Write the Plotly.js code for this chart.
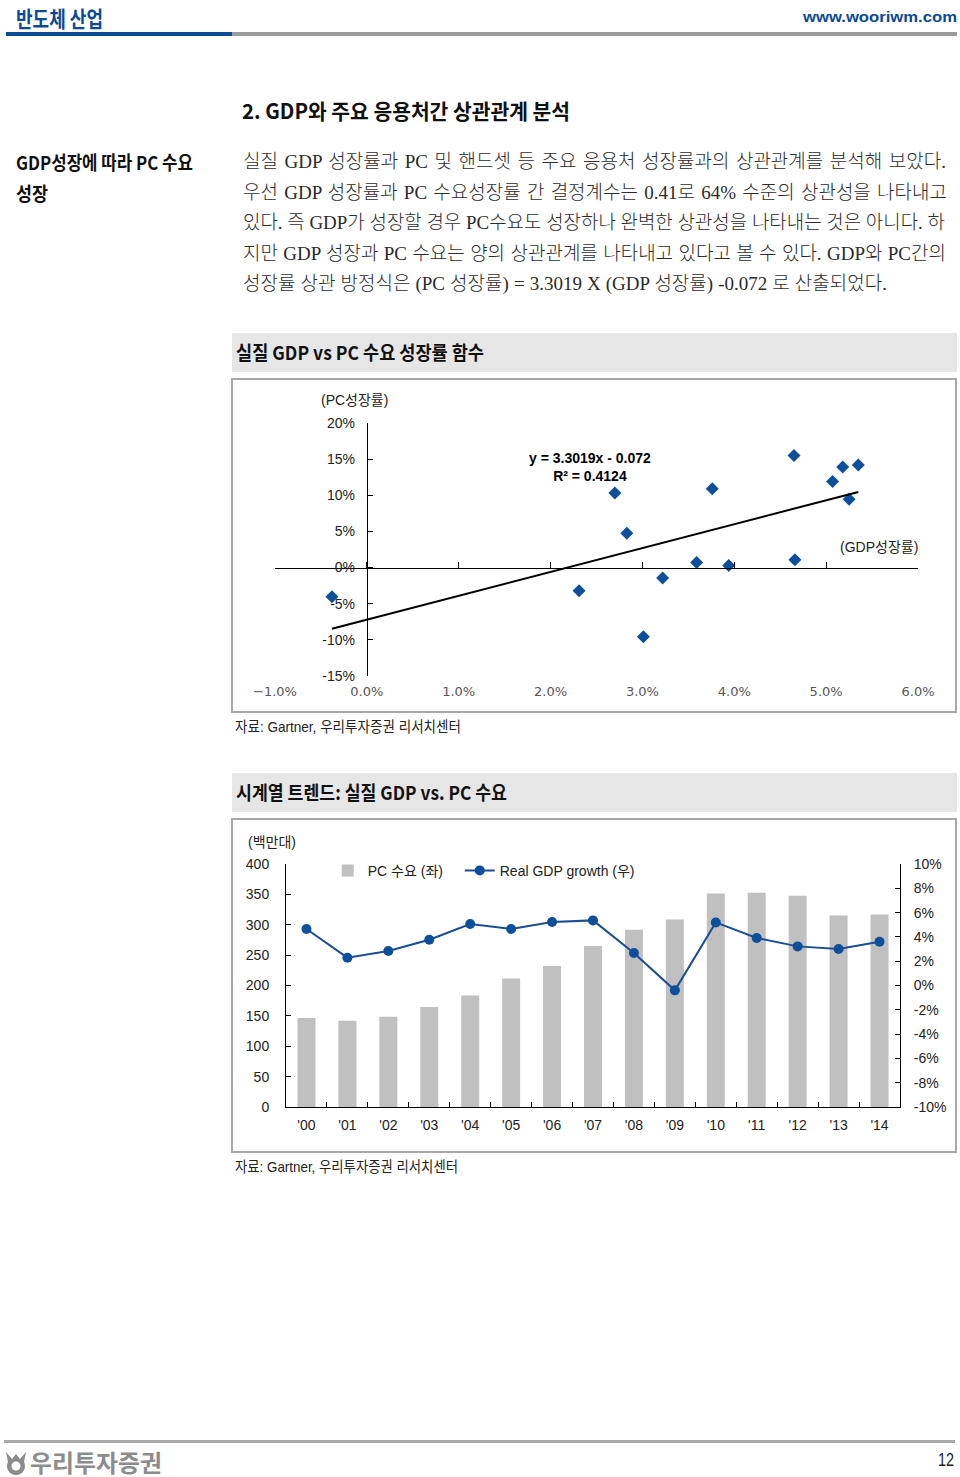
<!DOCTYPE html>
<html><head><meta charset="utf-8">
<script src="https://cdn.plot.ly/plotly-3.0.1.min.js"></script>
<style>
html,body{margin:0;padding:0;background:#fff;}
body{width:960px;height:1477px;position:relative;overflow:hidden;font-family:'Noto Sans CJK KR',sans-serif;}
.t{position:absolute;white-space:nowrap;height:30px;line-height:30px;}
.t>span{display:inline-block;transform-origin:0 50%;}
.hd{font-family:'Noto Sans CJK KR',sans-serif;font-weight:700;color:#111;}
.body{font-family:'Liberation Serif','Noto Sans CJK KR',serif;font-weight:300;color:#2b2b2b;font-size:19px;}
.nar{font-family:'Liberation Sans Narrow','Arial Narrow','Liberation Sans','Noto Sans CJK KR',sans-serif;color:#222;}
.bar{position:absolute;background:#e6e6e6;}
.box{position:absolute;border:2px solid #a8a8a8;box-sizing:border-box;pointer-events:none;}
.plot{position:absolute;}
</style></head><body>

<div style="position:absolute;left:6px;top:32px;width:226px;height:4px;background:#0b4a94"></div>
<div style="position:absolute;left:232px;top:32px;width:725px;height:4px;background:#9c9c9c"></div>

<div class="t hd" style="left:16px;top:2px;font-size:22px;color:#0b4a94" data-w="87"><span>반도체 산업</span></div>
<div class="t" style="left:803px;top:2px;font-size:15px;font-weight:700;color:#0b4a94;font-family:'Liberation Sans',Arial,sans-serif" data-w="154"><span>www.wooriwm.com</span></div>

<div class="t hd" style="left:242px;top:95px;font-size:21px" data-w="328"><span>2. GDP와 주요 응용처간 상관관계 분석</span></div>

<div class="t hd" style="left:16px;top:147px;font-size:19px" data-w="177"><span>GDP성장에 따라 PC 수요</span></div>
<div class="t hd" style="left:16px;top:178px;font-size:19px" data-w="32"><span>성장</span></div>

<div class="t body" style="left:243px;top:147px" data-w="703" data-just="1"><span>실질 GDP 성장률과 PC 및 핸드셋 등 주요 응용처 성장률과의 상관관계를 분석해 보았다.</span></div>
<div class="t body" style="left:243px;top:178px" data-w="704" data-just="1"><span>우선 GDP 성장률과 PC 수요성장률 간 결정계수는 0.41로 64% 수준의 상관성을 나타내고</span></div>
<div class="t body" style="left:243px;top:208px" data-w="702" data-just="1"><span>있다. 즉 GDP가 성장할 경우 PC수요도 성장하나 완벽한 상관성을 나타내는 것은 아니다. 하</span></div>
<div class="t body" style="left:243px;top:239px" data-w="703" data-just="1"><span>지만 GDP 성장과 PC 수요는 양의 상관관계를 나타내고 있다고 볼 수 있다. GDP와 PC간의</span></div>
<div class="t body" style="left:243px;top:269px" data-w="644" data-just="1"><span>성장률 상관 방정식은 (PC 성장률) = 3.3019 X (GDP 성장률) -0.072 로 산출되었다.</span></div>

<div class="bar" style="left:232px;top:333px;width:725px;height:39px"></div>
<div class="t hd" style="left:236px;top:337px;font-size:19px" data-w="248"><span>실질 GDP vs PC 수요 성장률 함수</span></div>
<div id="chart1" class="plot" style="left:231px;top:378px;width:726px;height:335px"></div>
<div class="box" style="left:231px;top:378px;width:726px;height:335px"></div>
<div class="t nar" style="left:235px;top:712px;font-size:15px" data-w="226"><span>자료: Gartner, 우리투자증권 리서치센터</span></div>

<div class="bar" style="left:232px;top:773px;width:725px;height:39px"></div>
<div class="t hd" style="left:236px;top:777px;font-size:19px" data-w="271"><span>시계열 트렌드: 실질 GDP vs. PC 수요</span></div>
<div id="chart2" class="plot" style="left:231px;top:818px;width:726px;height:335px"></div>
<div class="box" style="left:231px;top:818px;width:726px;height:335px"></div>
<div class="t nar" style="left:235px;top:1152px;font-size:15px" data-w="223"><span>자료: Gartner, 우리투자증권 리서치센터</span></div>

<div style="position:absolute;left:4px;top:1440px;width:951px;height:3px;background:#a8a8a8"></div>
<svg style="position:absolute;left:4px;top:1450px" width="24" height="26" viewBox="0 0 24 26">
  <path d="M2 2 L8 9 L12 4 L16 9 L22 2 L20 12 A9 9 0 1 1 4 12 Z" fill="#8c8c8c"/>
  <circle cx="12" cy="16" r="4.5" fill="#fff"/>
</svg>
<div class="t hd" style="left:30px;top:1447px;font-size:24px;color:#8c8c8c" data-w="132"><span>우리투자증권</span></div>
<div class="t nar" style="left:938px;top:1445px;font-size:18px" data-w="16"><span>12</span></div>

<script>
// ---------- Chart 1 data: real GDP growth vs PC demand growth (%) ----------
const gdpGrowth = [-0.38, 2.31, 2.70, 2.83, 3.01, 3.22, 3.59, 3.76, 3.94, 4.65, 4.66, 5.07, 5.18, 5.25, 5.35];
const pcGrowth  = [-4.04, -3.20, 10.3, 4.74, -9.57, -1.44, 0.70, 10.9, 0.28, 15.5, 1.07, 11.9, 13.9, 9.44, 14.2];
const trendSlope = 3.3019;
const trendIntercept = -0.072;
const trendText = 'y = 3.3019x - 0.072<br>R² = 0.4124';
const gdpTicks = [-1, 0, 1, 2, 3, 4, 5, 6];
const gdpTickLabels = ['\u22121.0%', '0.0%', '1.0%', '2.0%', '3.0%', '4.0%', '5.0%', '6.0%'];
const pcTicks = [-15, -10, -5, 0, 5, 10, 15, 20];
const pcTickLabels = ['-15%', '-10%', '-5%', '0%', '5%', '10%', '15%', '20%'];

// ---------- Chart 2 data: time series ----------
const years = ["'00", "'01", "'02", "'03", "'04", "'05", "'06", "'07", "'08", "'09", "'10", "'11", "'12", "'13", "'14"];
const pcDemand = [146.5, 142, 148.6, 164.6, 183.7, 211.7, 232, 265, 291.8, 308.8, 351.6, 352.8, 347.8, 315.4, 317];
const realGdpGrowth = [4.65, 2.29, 2.84, 3.77, 5.06, 4.65, 5.23, 5.36, 2.67, -0.40, 5.19, 3.91, 3.22, 3.00, 3.60];
const rightTicks = [-10, -8, -6, -4, -2, 0, 2, 4, 6, 8, 10];
const rightTickLabels = ['-10%', '-8%', '-6%', '-4%', '-2%', '0%', '2%', '4%', '6%', '8%', '10%'];

const NARROW = "'Liberation Sans Narrow', 'Arial Narrow', 'Liberation Sans', 'Noto Sans CJK KR', sans-serif";
const WIDE = "'DejaVu Sans', 'Noto Sans CJK KR', sans-serif";

// trend line endpoints from the fitted equation over the data's x span
const tx0 = Math.min(...gdpGrowth), tx1 = Math.max(...gdpGrowth);
const trendX = [tx0, tx1];
const trendY = trendX.map(x => trendSlope * x + trendIntercept * 100);

const xRange = [-1, 6], yRange = [-15, 20];

Plotly.newPlot('chart1', [
  {type: 'scatter', mode: 'lines', x: trendX, y: trendY, xaxis: 'x2', yaxis: 'y',
   line: {color: '#000', width: 2}, hoverinfo: 'skip', showlegend: false},
  {type: 'scatter', mode: 'markers', x: gdpGrowth, y: pcGrowth,
   marker: {symbol: 'diamond', size: 10, color: '#0d4f9a'}, showlegend: false}
], {
  width: 726, height: 335,
  margin: {l: 44, r: 39, t: 45, b: 37},
  paper_bgcolor: 'rgba(0,0,0,0)', plot_bgcolor: 'rgba(0,0,0,0)',
  showlegend: false,
  xaxis: {range: xRange, showline: false, zeroline: false, showgrid: false, ticks: '',
          tickvals: gdpTicks, ticktext: gdpTickLabels, ticklabelstandoff: 6,
          tickfont: {family: WIDE, size: 13, color: '#555'}},
  xaxis2: {range: xRange, overlaying: 'x', anchor: 'free', position: (0 - yRange[0]) / (yRange[1] - yRange[0]),
           showline: true, linecolor: '#000', linewidth: 1, zeroline: false, showgrid: false,
           ticks: 'inside', ticklen: 6, tickcolor: '#000', tickwidth: 1,
           tickvals: gdpTicks, showticklabels: false},
  yaxis: {range: yRange, anchor: 'free', position: (0 - xRange[0]) / (xRange[1] - xRange[0]),
          showline: true, linecolor: '#000', linewidth: 1, zeroline: false, showgrid: false,
          ticks: 'inside', ticklen: 5, tickcolor: '#000',
          tickvals: pcTicks, ticktext: pcTickLabels, ticklabelstandoff: 9,
          tickfont: {family: NARROW, size: 14, color: '#222'}},
  annotations: [
    {xref: 'x', yref: 'y', x: 2.43, y: 13.95, text: trendText, showarrow: false, align: 'center',
     xanchor: 'center', yanchor: 'middle',
     font: {family: NARROW, size: 14, color: '#000', weight: 700}},
    {xref: 'paper', yref: 'paper', x: 0.124, y: 1.092, text: '(PC성장률)', showarrow: false,
     xanchor: 'center', yanchor: 'middle',
     font: {family: NARROW, size: 14, color: '#222'}},
    {xref: 'paper', yref: 'paper', x: 0.939, y: 0.51, text: '(GDP성장률)', showarrow: false,
     xanchor: 'center', yanchor: 'middle',
     font: {family: NARROW, size: 14, color: '#222'}}
  ]
}, {staticPlot: true, displayModeBar: false});

const legendStyle = {orientation: 'h', xanchor: 'left', yanchor: 'middle', y: 0.972,
  bgcolor: 'rgba(0,0,0,0)', font: {family: NARROW, size: 14, color: '#222'}};

Plotly.newPlot('chart2', [
  {type: 'bar', x: years, y: pcDemand, name: 'PC 수요 (좌)', width: 0.44,
   marker: {color: '#c0c0c0'}, legend: 'legend'},
  {type: 'scatter', mode: 'lines+markers', x: years, y: realGdpGrowth, yaxis: 'y2',
   name: 'Real GDP growth (우)', line: {color: '#1a4d94', width: 2},
   marker: {size: 10, color: '#0d4f9a'}, legend: 'legend2'}
], {
  width: 726, height: 335,
  margin: {l: 55, r: 57, t: 46, b: 46},
  paper_bgcolor: 'rgba(0,0,0,0)', plot_bgcolor: 'rgba(0,0,0,0)',
  showlegend: true,
  legend: Object.assign({x: 0.068}, legendStyle),
  legend2: Object.assign({x: 0.283}, legendStyle),
  xaxis: {type: 'category', range: [-0.5, 14.5], showline: true, linecolor: '#000', linewidth: 1,
          ticks: 'inside', tickson: 'boundaries', ticklen: 5, tickcolor: '#000',
          showgrid: false, zeroline: false, ticklabelstandoff: 5,
          tickfont: {family: NARROW, size: 14, color: '#222'}},
  yaxis: {range: [0, 400], dtick: 50, showline: true, linecolor: '#000', linewidth: 1,
          ticks: 'inside', ticklen: 5, tickcolor: '#000', showgrid: false, zeroline: false,
          ticklabelstandoff: 13, tickfont: {family: NARROW, size: 14, color: '#222'}},
  yaxis2: {range: [-10, 10], overlaying: 'y', side: 'right', showline: true, linecolor: '#000', linewidth: 1,
           ticks: 'inside', ticklen: 5, tickcolor: '#000', showgrid: false, zeroline: false,
           tickvals: rightTicks, ticktext: rightTickLabels, ticklabelstandoff: 10,
           tickfont: {family: NARROW, size: 14, color: '#222'}},
  annotations: [
    {xref: 'paper', yref: 'paper', x: -0.023, y: 1.092, text: '(백만대)', showarrow: false,
     xanchor: 'center', yanchor: 'middle',
     font: {family: NARROW, size: 14, color: '#222'}}
  ]
}, {staticPlot: true, displayModeBar: false});

// fit HTML text widths to the reference layout
function fitAll() {
  document.querySelectorAll('[data-w]').forEach(el => {
    const sp = el.firstElementChild;
    sp.style.transform = 'none';
    sp.style.wordSpacing = '0px';
    const target = parseFloat(el.dataset.w);
    let w = sp.getBoundingClientRect().width;
    if (el.dataset.just && w < target) {
      const n = (sp.textContent.match(/ /g) || []).length;
      if (n > 0) sp.style.wordSpacing = ((target - w) / n) + 'px';
      w = sp.getBoundingClientRect().width;
    }
    if (w > 0) sp.style.transform = 'scaleX(' + (target / w) + ')';
  });
}
fitAll();
if (document.fonts && document.fonts.ready) document.fonts.ready.then(fitAll);
</script>
</body></html>
